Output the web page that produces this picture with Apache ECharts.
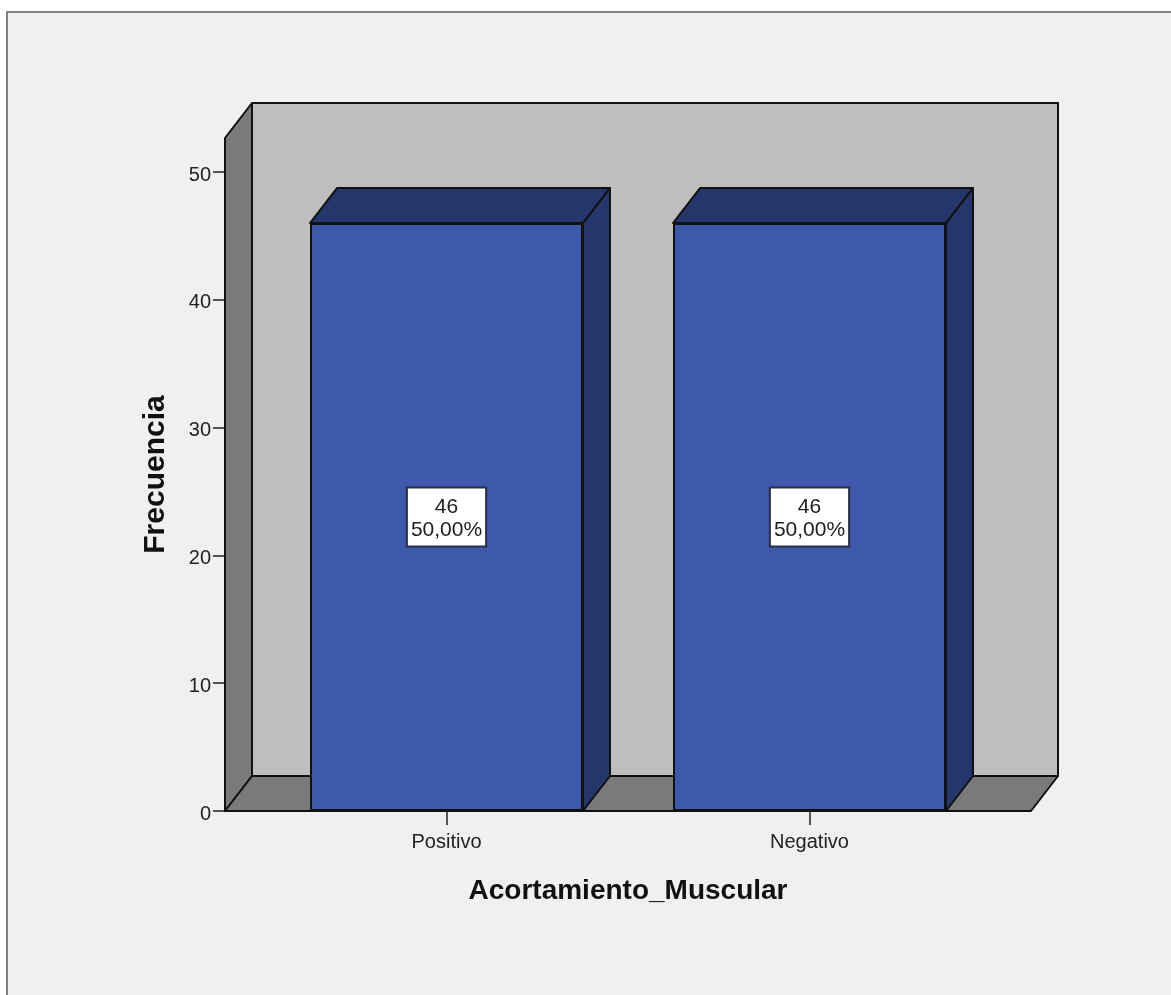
<!DOCTYPE html>
<html>
<head>
<meta charset="utf-8">
<style>html,body{margin:0;padding:0;background:#fff}#chart{width:1171px;height:995px}</style>
<script src="https://cdn.jsdelivr.net/npm/echarts@6/dist/echarts.min.js"></script>
</head>
<body>
<div id="chart"></div>
<script>
const categories = ['Positivo', 'Negativo'];
const frequencies = [46, 46];
const percentLabels = ['50,00%', '50,00%'];
const yTicks = [0, 10, 20, 30, 40, 50];
const wallTop = 52.66;

// Oblique offset of the 3D extrusion, and how far the floor runs past the category band
const depthX = 27;
const depthY = 35;
const floorOverhang = 40;
const barWidth = 273;
const edge = { stroke: '#111', lineWidth: 2, lineJoin: 'round' };

function face(points, fill) {
  return { type: 'polygon', shape: { points }, style: { fill, ...edge } };
}

// Back wall, side wall and floor of the chart box
function renderRoom(params, api) {
  const cs = params.coordSys;
  const l = cs.x - floorOverhang;
  const r = cs.x + cs.width + floorOverhang;
  const bottom = api.coord([0, 0])[1];
  const top = api.coord([0, api.value(1)])[1];
  return {
    type: 'group',
    children: [
      face([[l + depthX, top - depthY], [r + depthX, top - depthY], [r + depthX, bottom - depthY], [l + depthX, bottom - depthY]], '#bebebe'),
      face([[l, top], [l + depthX, top - depthY], [l + depthX, bottom - depthY], [l, bottom]], '#7a7a7a'),
      face([[l, bottom], [l + depthX, bottom - depthY], [r + depthX, bottom - depthY], [r, bottom]], '#7a7a7a')
    ]
  };
}

// Top and right faces of each bar
function renderBarSides(params, api) {
  const p = api.coord([api.value(0), api.value(1)]);
  const base = api.coord([api.value(0), 0])[1];
  const l = p[0] - barWidth / 2;
  const r = p[0] + barWidth / 2;
  return {
    type: 'group',
    children: [
      face([[l, p[1]], [l + depthX, p[1] - depthY], [r + depthX, p[1] - depthY], [r, p[1]]], '#24366b'),
      face([[r, p[1]], [r + depthX, p[1] - depthY], [r + depthX, base - depthY], [r, base]], '#24366b')
    ]
  };
}

const font = 'Liberation Sans';
const chart = echarts.init(document.getElementById('chart'), null, { renderer: 'canvas' });
chart.setOption({
  animation: false,
  backgroundColor: '#ffffff',
  graphic: [{
    type: 'rect',
    z: -1,
    silent: true,
    shape: { x: 7, y: 12, width: 1180, height: 1000 },
    style: { fill: '#f0f0f0', stroke: '#808080', lineWidth: 2 }
  }],
  grid: { left: 265, right: 180, top: 138, bottom: 184 },
  xAxis: {
    type: 'category',
    data: categories,
    name: 'Acortamiento_Muscular',
    nameLocation: 'middle',
    nameGap: 66,
    nameTextStyle: { fontFamily: font, fontSize: 28, fontWeight: 'bold', color: '#111' },
    axisLine: { show: false },
    axisTick: { show: true, alignWithLabel: true, length: 14, lineStyle: { color: '#222', width: 1.5 } },
    axisLabel: { fontFamily: font, fontSize: 20, color: '#222', margin: 21 },
    splitLine: { show: false }
  },
  yAxis: {
    type: 'value',
    min: 0,
    max: wallTop,
    offset: 40,
    name: 'Frecuencia',
    nameLocation: 'middle',
    nameGap: 54,
    nameTextStyle: { fontFamily: font, fontSize: 30, fontWeight: 'bold', color: '#111' },
    axisLine: { show: false },
    axisTick: { show: true, length: 12, customValues: yTicks, lineStyle: { color: '#222', width: 1.5 } },
    axisLabel: {
      margin: 14,
      customValues: yTicks,
      formatter: v => '{t|' + v + '}',
      rich: { t: { fontFamily: font, fontSize: 20, color: '#222', padding: [6, 0, 0, 0] } }
    },
    splitLine: { show: false }
  },
  series: [
    {
      type: 'custom',
      z: 1,
      clip: false,
      silent: true,
      renderItem: renderRoom,
      data: [[0, wallTop]]
    },
    {
      type: 'custom',
      z: 2,
      clip: false,
      silent: true,
      renderItem: renderBarSides,
      encode: { x: 0, y: 1 },
      data: frequencies.map((v, i) => [i, v])
    },
    {
      type: 'bar',
      z: 3,
      barWidth: barWidth,
      data: frequencies,
      itemStyle: { color: '#3e58aa', borderColor: '#111', borderWidth: 2 },
      label: {
        show: true,
        position: 'inside',
        formatter: p => '{count|' + p.value + '}\n{share|' + percentLabels[p.dataIndex] + '}',
        rich: {
          count: { fontFamily: font, fontSize: 21, lineHeight: 23, color: '#222', align: 'center' },
          share: { fontFamily: font, fontSize: 21, lineHeight: 23, color: '#222', align: 'center' }
        },
        backgroundColor: '#ffffff',
        borderColor: '#2b2f45',
        borderWidth: 2,
        padding: [7, 3, 4, 3]
      }
    }
  ]
});
</script>
</body>
</html>
